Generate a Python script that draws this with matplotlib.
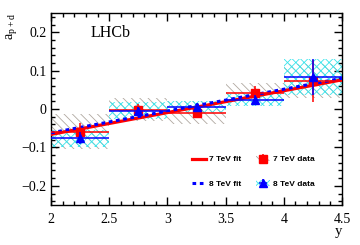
import matplotlib
matplotlib.use('Agg')
import matplotlib.pyplot as plt
from matplotlib.patches import Patch
from matplotlib.ticker import MultipleLocator
import numpy as np

plt.rcParams.update({'font.family': 'Liberation Serif', 'font.size': 9,
                     'hatch.linewidth': 0.6, 'mathtext.fontset': 'custom',
                     'mathtext.rm': 'Liberation Serif'})

# rapidity bins
y_lo = [2.0, 2.5, 3.0, 3.5, 4.0]
y_hi = [2.5, 3.0, 3.5, 4.0, 4.5]

# 7 TeV
a7 = [-0.059, -0.002, -0.010, 0.043, 0.073]
a7_stat = [0.023, 0.014, 0.013, 0.016, 0.054]
a7_syst = [0.046, 0.030, 0.030, 0.026, 0.045]

# 8 TeV
a8 = [-0.076, -0.004, 0.006, 0.024, 0.083]
a8_stat = [0.015, 0.010, 0.009, 0.013, 0.046]
a8_syst = [0.022, 0.022, 0.016, 0.016, 0.046]

# linear fits, value at y=2 and y=4.5
fit_y = [2.0, 4.5]
fit7 = [-0.066, 0.076]
fit8 = [-0.062, 0.080]

x_ticks = [2, 2.5, 3, 3.5, 4, 4.5]
x_ticklabels = ['2', '2.5', '3', '3.5', '4', '4.5']
y_ticks = [-0.2, -0.1, 0, 0.1, 0.2]
y_ticklabels = ['\u22120.2', '\u22120.1', '0', '0.1', '0.2']

lo = np.array(y_lo)
hi = np.array(y_hi)
yc = (lo + hi) / 2
yw = hi - lo
a7 = np.array(a7); a8 = np.array(a8)
a7_syst = np.array(a7_syst); a8_syst = np.array(a8_syst)

fig = plt.figure(figsize=(3.6, 2.45), dpi=100)
ax = fig.add_axes([0.142, 0.163, 0.808, 0.784])

# systematic boxes
ax.bar(yc, 2 * a7_syst, width=yw, bottom=a7 - a7_syst, fill=False,
       hatch='\\\\\\\\', edgecolor='#b0a8a0', linewidth=0, zorder=1)
ax.bar(yc, 2 * a8_syst, width=yw, bottom=a8 - a8_syst, fill=False,
       hatch='xxxx', edgecolor='#38e4ec', linewidth=0, zorder=2)

# fits
l7, = ax.plot(fit_y, fit7, color='red', lw=2.3, zorder=3)
l8, = ax.plot(fit_y, fit8, color='blue', lw=2.2, ls=(0, (1.2, 1.2)), zorder=4)

# data
e7 = ax.errorbar(yc, a7, xerr=yw / 2, yerr=a7_stat, fmt='s', color='red',
                 ms=5.5, elinewidth=1.1, capsize=0, zorder=5)
e8 = ax.errorbar(yc, a8, xerr=yw / 2, yerr=a8_stat, fmt='^', color='blue',
                 ms=5.5, elinewidth=1.1, capsize=0, zorder=6)

ax.set_xlim(2, 4.5)
ax.set_ylim(-0.25, 0.25)
ax.set_xticks(x_ticks)
ax.set_xticklabels(x_ticklabels)
ax.set_yticks(y_ticks)
ax.set_yticklabels(y_ticklabels)
ax.xaxis.set_minor_locator(MultipleLocator(0.1))
ax.yaxis.set_minor_locator(MultipleLocator(0.02))
ax.tick_params(which='both', direction='in', top=True, right=True, labelsize=10)
ax.tick_params(which='major', length=6, width=1)
ax.tick_params(which='minor', length=3, width=1)
ax.tick_params(axis='x', pad=6)
for s in ax.spines.values():
    s.set_linewidth(1)

ax.set_ylabel(r'a$_{\mathrm{p+d}}$', loc='top', fontsize=10, labelpad=1)
ax.set_xlabel('y', loc='right', fontsize=10.5, labelpad=-1)
ax.text(2.34, 0.197, 'LHCb', fontsize=11.5, va='center')

h7 = (Patch(fill=False, hatch='\\\\\\\\', edgecolor='#b0a8a0', lw=0), e7)
h8 = (Patch(fill=False, hatch='xxxx', edgecolor='#38e4ec', lw=0), e8)
ax.legend([l7, l8, h7, h8], ['7 TeV fit', '8 TeV fit', '7 TeV data', '8 TeV data'],
          ncol=2, loc='lower left', bbox_to_anchor=(0.46, 0.05), frameon=False,
          prop={'family': 'Liberation Sans', 'weight': 'bold', 'size': 6},
          handlelength=1.6, columnspacing=1.8, labelspacing=2.0, handletextpad=0.4)

plt.savefig('out.png', dpi=100)
